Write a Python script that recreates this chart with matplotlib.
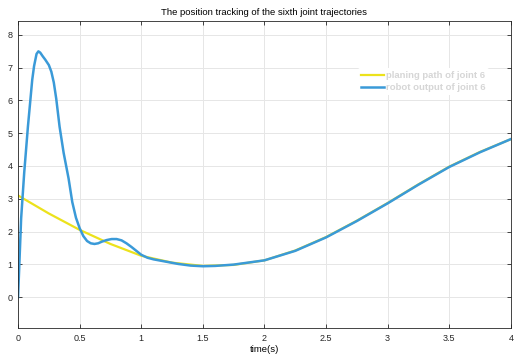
import numpy as np
import matplotlib
matplotlib.use("Agg")
import matplotlib.pyplot as plt

plt.rcParams["font.family"] = ["Liberation Sans", "DejaVu Sans"]

# planned path of joint 6
plan_t = [0, 0.25, 0.5, 0.75, 1.0, 1.25, 1.5, 1.75, 2.0, 2.25, 2.5, 2.75, 3.0, 3.25, 3.5, 3.75, 4.0]
plan_q = [3.10, 2.55, 2.05, 1.62, 1.26, 1.05, 0.95, 0.98, 1.12, 1.42, 1.83, 2.33, 2.87, 3.44, 3.98, 4.43, 4.82]

# measured robot output of joint 6
out_t = [0, 0.025, 0.05, 0.08, 0.115, 0.13, 0.15, 0.165, 0.18, 0.2, 0.22, 0.25, 0.27,
         0.29, 0.31, 0.337, 0.37, 0.41, 0.44, 0.47, 0.50, 0.53, 0.56, 0.59, 0.62, 0.65,
         0.68, 0.72, 0.76, 0.80, 0.84, 0.88, 0.92, 0.96, 1.0, 1.05, 1.1, 1.2, 1.3, 1.4,
         1.5, 1.6, 1.75, 2.0, 2.25, 2.5, 2.75, 3.0, 3.25, 3.5, 3.75, 4.0]
out_q = [0, 2.4, 3.8, 5.2, 6.63, 7.05, 7.42, 7.5, 7.46, 7.35, 7.25, 7.08, 6.88,
         6.55, 6.05, 5.2, 4.4, 3.62, 2.9, 2.42, 2.1, 1.86, 1.71, 1.64, 1.62, 1.64,
         1.69, 1.74, 1.77, 1.77, 1.73, 1.64, 1.53, 1.41, 1.29, 1.2, 1.15, 1.08, 1.01, 0.96,
         0.94, 0.95, 0.99, 1.12, 1.41, 1.82, 2.32, 2.86, 3.43, 3.97, 4.42, 4.82]

fig = plt.figure(figsize=(5.16, 3.54), dpi=100)
ax = fig.add_axes([0.035, 0.073, 0.955, 0.869])

ax.plot(plan_t, plan_q, color="#ECE21C", lw=1.6, label="planing path of joint 6")
ax.plot(out_t, out_q, color="#3A9AD8", lw=1.8, label="robot output of joint 6")

ax.set_xlim(0, 4)
ax.set_ylim(-0.95, 8.44)
ax.set_xticks([0, 0.5, 1, 1.5, 2, 2.5, 3, 3.5, 4])
ax.set_xticklabels(["0", "0.5", "1", "1.5", "2", "2.5", "3", "3.5", "4"])
ax.set_yticks(range(0, 9))
ax.grid(True, color="#E6E6E6", lw=0.7)
ax.set_axisbelow(True)
ax.tick_params(direction="in", top=True, right=True, labelsize=6.5, colors="#262626",
               length=3, width=0.6, pad=4)
for s in ax.spines.values():
    s.set_color("#262626")
    s.set_linewidth(0.6)

ax.set_title("The position tracking of the sixth joint trajectories", fontsize=6.8, pad=4)
ax.set_xlabel("time(s)", fontsize=6.8, labelpad=2)

leg = ax.legend(loc="upper right", bbox_to_anchor=(0.965, 0.86), fontsize=6.8, frameon=True,
                handlelength=2.4, borderpad=0.3, labelspacing=0.35, handletextpad=0.3)
leg.get_frame().set_edgecolor("none")
leg.get_frame().set_facecolor("white")
leg.get_frame().set_alpha(1)
for txt in leg.get_texts():
    txt.set_color("#D6D6D6")
    txt.set_fontweight("bold")

fig.savefig("out.png", dpi=100)
